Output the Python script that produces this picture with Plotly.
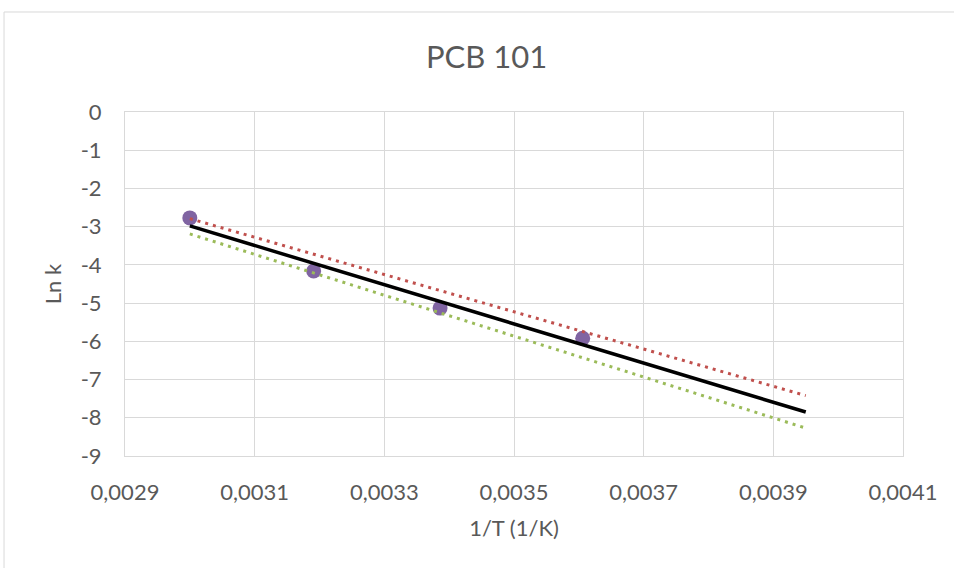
import plotly.graph_objects as go

# Data points
inv_T = [0.003000, 0.003191, 0.003386, 0.003606]
ln_k = [-2.77, -4.16, -5.13, -5.92]

# Fit lines (endpoints)
fit_x = [0.00300, 0.00395]
black_y = [-2.98, -7.85]
red_y = [-2.79, -7.42]
green_y = [-3.19, -8.27]

x_ticks = [0.0029, 0.0031, 0.0033, 0.0035, 0.0037, 0.0039, 0.0041]
x_labels = ["0,0029", "0,0031", "0,0033", "0,0035", "0,0037", "0,0039", "0,0041"]
y_ticks = [0, -1, -2, -3, -4, -5, -6, -7, -8, -9]
y_labels = ["0", "-1", "-2", "-3", "-4", "-5", "-6", "-7", "-8", "-9"]

FONT = "Lato, 'Open Sans', sans-serif"
TXT = "#595959"
GRID = "#D9D9D9"

fig = go.Figure()
fig.add_trace(go.Scatter(x=inv_T, y=ln_k, mode="markers",
                         marker=dict(color="#8064A2", size=15), showlegend=False))
fig.add_trace(go.Scatter(x=fit_x, y=black_y, mode="lines",
                         line=dict(color="black", width=3.5), showlegend=False))
fig.add_trace(go.Scatter(x=fit_x, y=red_y, mode="lines",
                         line=dict(color="#C0504D", width=3, dash="3px,5px"), showlegend=False))
fig.add_trace(go.Scatter(x=fit_x, y=green_y, mode="lines",
                         line=dict(color="#9BBB59", width=3, dash="3px,5px"), showlegend=False))

fig.update_layout(
    width=954, height=568,
    margin=dict(l=125, r=51, t=112, b=112),
    paper_bgcolor="white", plot_bgcolor="white",
    title=dict(text="PCB 101", x=0.51, xanchor="center", y=0.9, yanchor="middle",
               font=dict(family=FONT, size=31, color=TXT)),
    font=dict(family=FONT, size=22, color=TXT),
    xaxis=dict(range=[0.0029, 0.0041], tickvals=x_ticks, ticktext=x_labels,
               showgrid=True, gridcolor=GRID, gridwidth=1,
               showline=True, linecolor=GRID, mirror=True, zeroline=False,
               ticks="", tickfont=dict(size=22, color=TXT), ticklabelstandoff=17,
               title=dict(text="1/T (1/K)", font=dict(size=22, color=TXT), standoff=16)),
    yaxis=dict(range=[-9, 0], tickvals=y_ticks, ticktext=y_labels,
               showgrid=True, gridcolor=GRID, gridwidth=1,
               showline=True, linecolor=GRID, mirror=True, zeroline=False,
               ticks="", tickfont=dict(size=22, color=TXT), ticklabelstandoff=18,
               title=dict(text="Ln k", font=dict(size=22, color=TXT), standoff=12)),
    shapes=[
        dict(type="line", xref="paper", yref="paper", x0=-0.1555, x1=1.1, y0=1.2907, y1=1.2907,
             line=dict(color=GRID, width=1)),
        dict(type="line", xref="paper", yref="paper", x0=-0.1555, x1=-0.1555, y0=1.2907, y1=-0.4,
             line=dict(color=GRID, width=1)),
    ],
)

fig.write_html("out.html")
